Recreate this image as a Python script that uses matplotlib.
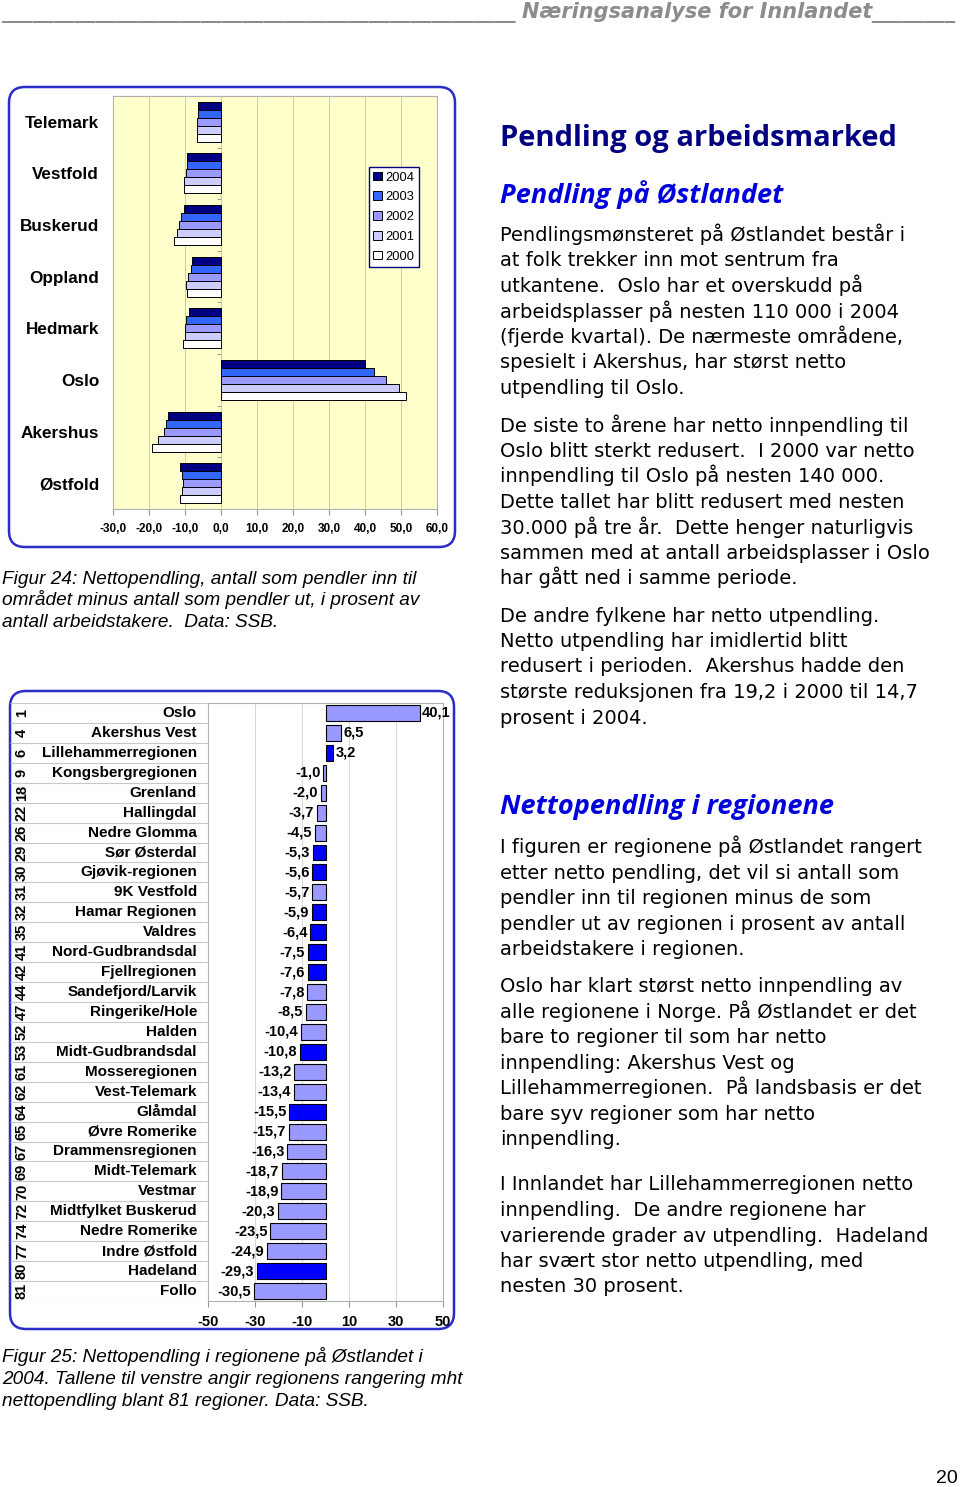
import matplotlib
matplotlib.use('Agg')
import matplotlib.pyplot as plt
from matplotlib.patches import FancyBboxPatch, Patch
import numpy as np

# ---------------- data: chart 1 (fylker, 2000-2004) ----------------
fylker = ['Telemark', 'Vestfold', 'Buskerud', 'Oppland', 'Hedmark', 'Oslo', 'Akershus', 'Østfold']
years = ['2004', '2003', '2002', '2001', '2000']
netto_2004 = [-6.5, -9.4, -10.4, -8.1, -8.8, 40.1, -14.7, -11.4]
netto_2003 = [-6.4, -9.5, -11.1, -8.2, -9.6, 42.6, -15.4, -10.9]
netto_2002 = [-6.8, -9.8, -11.7, -9.3, -10.0, 45.9, -15.9, -10.5]
netto_2001 = [-6.7, -10.2, -12.3, -9.7, -10.0, 49.5, -17.5, -10.8]
netto_2000 = [-6.7, -10.3, -13.0, -9.5, -10.6, 51.4, -19.2, -11.3]
x1_ticks = [-30, -20, -10, 0, 10, 20, 30, 40, 50, 60]

# ---------------- data: chart 2 (regioner 2004) ----------------
rank = [1, 4, 6, 9, 18, 22, 26, 29, 30, 31, 32, 35, 41, 42, 44, 47, 52, 53, 61, 62,
        64, 65, 67, 69, 70, 72, 74, 77, 80, 81]
regioner = ['Oslo', 'Akershus Vest', 'Lillehammerregionen', 'Kongsbergregionen', 'Grenland',
            'Hallingdal', 'Nedre Glomma', 'Sør Østerdal', 'Gjøvik-regionen', '9K Vestfold',
            'Hamar Regionen', 'Valdres', 'Nord-Gudbrandsdal', 'Fjellregionen', 'Sandefjord/Larvik',
            'Ringerike/Hole', 'Halden', 'Midt-Gudbrandsdal', 'Mosseregionen', 'Vest-Telemark',
            'Glåmdal', 'Øvre Romerike', 'Drammensregionen', 'Midt-Telemark', 'Vestmar',
            'Midtfylket Buskerud', 'Nedre Romerike', 'Indre Østfold', 'Hadeland', 'Follo']
nettopendling = [40.1, 6.5, 3.2, -1.0, -2.0, -3.7, -4.5, -5.3, -5.6, -5.7, -5.9, -6.4, -7.5,
                 -7.6, -7.8, -8.5, -10.4, -10.8, -13.2, -13.4, -15.5, -15.7, -16.3, -18.7,
                 -18.9, -20.3, -23.5, -24.9, -29.3, -30.5]
innlandet = ['Lillehammerregionen', 'Sør Østerdal', 'Gjøvik-regionen', 'Hamar Regionen',
             'Valdres', 'Nord-Gudbrandsdal', 'Fjellregionen', 'Midt-Gudbrandsdal',
             'Glåmdal', 'Hadeland']
x2_ticks = [-50, -30, -10, 10, 30, 50]

# ---------------- text ----------------
header = 'Næringsanalyse for Innlandet'
title = 'Pendling og arbeidsmarked'
sub1 = 'Pendling på Østlandet'
sub2 = 'Nettopendling i regionene'
para1 = ['Pendlingsmønsteret på Østlandet består i', 'at folk trekker inn mot sentrum fra',
         'utkantene.  Oslo har et overskudd på', 'arbeidsplasser på nesten 110 000 i 2004',
         '(fjerde kvartal). De nærmeste områdene,', 'spesielt i Akershus, har størst netto',
         'utpendling til Oslo.']
para2 = ['De siste to årene har netto innpendling til', 'Oslo blitt sterkt redusert.  I 2000 var netto',
         'innpendling til Oslo på nesten 140 000.', 'Dette tallet har blitt redusert med nesten',
         '30.000 på tre år.  Dette henger naturligvis', 'sammen med at antall arbeidsplasser i Oslo',
         'har gått ned i samme periode.']
para3 = ['De andre fylkene har netto utpendling.', 'Netto utpendling har imidlertid blitt',
         'redusert i perioden.  Akershus hadde den', 'største reduksjonen fra 19,2 i 2000 til 14,7',
         'prosent i 2004.']
para4 = ['I figuren er regionene på Østlandet rangert', 'etter netto pendling, det vil si antall som',
         'pendler inn til regionen minus de som', 'pendler ut av regionen i prosent av antall',
         'arbeidstakere i regionen.']
para5 = ['Oslo har klart størst netto innpendling av', 'alle regionene i Norge. På Østlandet er det',
         'bare to regioner til som har netto', 'innpendling: Akershus Vest og',
         'Lillehammerregionen.  På landsbasis er det', 'bare syv regioner som har netto',
         'innpendling.']
para6 = ['I Innlandet har Lillehammerregionen netto', 'innpendling.  De andre regionene har',
         'varierende grader av utpendling.  Hadeland', 'har svært stor netto utpendling, med',
         'nesten 30 prosent.']
cap24 = ['Figur 24: Nettopendling, antall som pendler inn til',
         'området minus antall som pendler ut, i prosent av',
         'antall arbeidstakere.  Data: SSB.']
cap25 = ['Figur 25: Nettopendling i regionene på Østlandet i',
         '2004. Tallene til venstre angir regionens rangering mht',
         'nettopendling blant 81 regioner. Data: SSB.']

W, H = 960, 1487
fig = plt.figure(figsize=(W / 100, H / 100), dpi=100)
fig.patch.set_facecolor('white')

def ax_px(x0, y0, x1, y1, **kw):
    return fig.add_axes([x0 / W, 1 - y1 / H, (x1 - x0) / W, (y1 - y0) / H], **kw)

bg = fig.add_axes([0, 0, 1, 1])
bg.set_xlim(0, W)
bg.set_ylim(H, 0)
bg.axis('off')

SANS = 'Liberation Sans'
BODY = 'DejaVu Sans'
HEAD = 'Open Sans'
border_col = '#2B2BC8'
hdr_kw = dict(va='baseline', fontsize=15, color='#8C8C8C', fontfamily=BODY,
              fontweight='bold', fontstyle='italic')

# header
bg.text(1, 18, '_' * 49, ha='left', **hdr_kw)
bg.text(522, 18, header, ha='left', **hdr_kw)
bg.text(955, 18, '_' * 8, ha='right', **hdr_kw)

# borders
bg.add_patch(FancyBboxPatch((9, 87), 446, 460, boxstyle='round,pad=0,rounding_size=16',
                            fc='none', ec=border_col, lw=1.8))
bg.add_patch(FancyBboxPatch((10, 691), 444, 638, boxstyle='round,pad=0,rounding_size=16',
                            fc='none', ec=border_col, lw=1.8))

# ---------------- chart 1 ----------------
ax1 = ax_px(113, 96, 437, 509)
ax1.set_facecolor('#FFFFCC')
series = [netto_2004, netto_2003, netto_2002, netto_2001, netto_2000]
colors1 = ['#000080', '#3366FF', '#9999FF', '#CCCCFF', '#FFFFFF']
h = 0.155
ypos = np.arange(len(fylker))
for j, (vals, c) in enumerate(zip(series, colors1)):
    ax1.barh(ypos + (j - 2) * h, vals, height=h, color=c, edgecolor='black', lw=0.7,
             zorder=3, label=years[j])
ax1.set_xlim(-30, 60)
ax1.set_ylim(len(fylker) - 0.5, -0.5)
ax1.set_xticks(x1_ticks)
ax1.set_xticklabels([f'{t:.1f}'.replace('.', ',') for t in x1_ticks], fontfamily=SANS,
                    fontweight='bold', fontsize=8.5)
ax1.set_yticks(ypos)
ax1.set_yticklabels(fylker, fontfamily=SANS, fontweight='bold', fontsize=12.3)
ax1.tick_params(axis='y', length=0, pad=10)
ax1.tick_params(axis='x', length=4, color='#999999', pad=6)
ax1.grid(axis='x', color='#C8C8C8', lw=0.7, zorder=0)
ax1.hlines(np.arange(len(fylker) + 1) - 0.5, -1.0, 0, color='#999999', lw=0.7, zorder=2)
for s in ax1.spines.values():
    s.set_color('#B0B0B0')
    s.set_linewidth(0.8)
hnd = [Patch(fc=c, ec='black', lw=0.7, label=y) for c, y in zip(colors1, years)]
leg = ax1.legend(handles=hnd, loc='upper left', bbox_to_anchor=(0.79, 0.828), borderaxespad=0,
                 fancybox=False, edgecolor='#000080', framealpha=1, handlelength=0.65,
                 handleheight=0.65, handletextpad=0.3, labelspacing=0.6, borderpad=0.35,
                 prop={'family': SANS, 'size': 9.3})
leg.get_frame().set_linewidth(1.0)

for k, line in enumerate(cap24):
    bg.text(2, 583.5 + k * 21.8, line, fontfamily=SANS, fontstyle='italic', fontsize=13.7,
            va='baseline', ha='left')

# ---------------- chart 2 ----------------
ax2 = ax_px(208, 703, 443, 1301)
n = len(regioner)
y2 = np.arange(n)
cols2 = ['#0000FF' if r in innlandet else '#9999FF' for r in regioner]
ax2.barh(y2, nettopendling, height=0.8, color=cols2, edgecolor='black', lw=0.8, zorder=3)
ax2.set_xlim(-50, 50)
ax2.set_ylim(n - 0.5, -0.5)
ax2.set_yticks([])
ax2.set_xticks(x2_ticks)
ax2.set_xticklabels([str(t) for t in x2_ticks], fontfamily=SANS, fontweight='bold', fontsize=10.5)
ax2.tick_params(axis='x', length=4, color='#999999', pad=6)
ax2.grid(axis='x', color='#D8D8D8', lw=0.7, zorder=0)
for s in ax2.spines.values():
    s.set_color('#B0B0B0')
    s.set_linewidth(0.8)
for i, v in enumerate(nettopendling):
    lab = f'{v:.1f}'.replace('.', ',')
    if v >= 0:
        ax2.text(v + 1.0, i, lab, ha='left', va='center', fontfamily=SANS, fontweight='bold',
                 fontsize=10.5, zorder=4, clip_on=False)
    else:
        ax2.text(v - 1.2, i, lab, ha='right', va='center', fontfamily=SANS, fontweight='bold',
                 fontsize=10.5, zorder=4)

axt = ax_px(10, 703, 208, 1301)
axt.set_xlim(0, 198)
axt.set_ylim(n - 0.5, -0.5)
axt.axis('off')
axt.hlines(np.arange(n + 1) - 0.5, 0, 198, color='#C8C8C8', lw=0.8)
for i, (r, name) in enumerate(zip(rank, regioner)):
    axt.text(187, i, name, ha='right', va='center', fontfamily=SANS, fontweight='bold',
             fontsize=11)
    axt.text(12, i, str(r), ha='center', va='center', rotation=90, fontfamily=SANS,
             fontweight='bold', fontsize=10.5)

for k, line in enumerate(cap25):
    bg.text(2, 1362 + k * 21.8, line, fontfamily=SANS, fontstyle='italic', fontsize=13.7,
            va='baseline', ha='left')

# ---------------- right column text ----------------
bg.text(500, 146, title, fontfamily=HEAD, fontweight='bold', fontsize=21,
        color='#000080', va='baseline')
bg.text(500, 203, sub1, fontfamily=HEAD, fontweight='bold', fontstyle='italic',
        fontsize=19.5, color='#0000DD', va='baseline')
bg.text(500, 814, sub2, fontfamily=HEAD, fontweight='bold', fontstyle='italic',
        fontsize=19.5, color='#0000DD', va='baseline')

LS = 25.5
for start, para in [(241, para1), (431.5, para2), (621.5, para3), (853.3, para4),
                    (992.3, para5), (1190.5, para6)]:
    for k, line in enumerate(para):
        bg.text(500, start + k * LS, line, fontfamily=BODY, fontsize=14, va='baseline',
                ha='left', color='black')

bg.text(958, 1483, '20', fontfamily=SANS, fontsize=14, ha='right', va='baseline')

fig.savefig('out.png', dpi=100, facecolor='white')
